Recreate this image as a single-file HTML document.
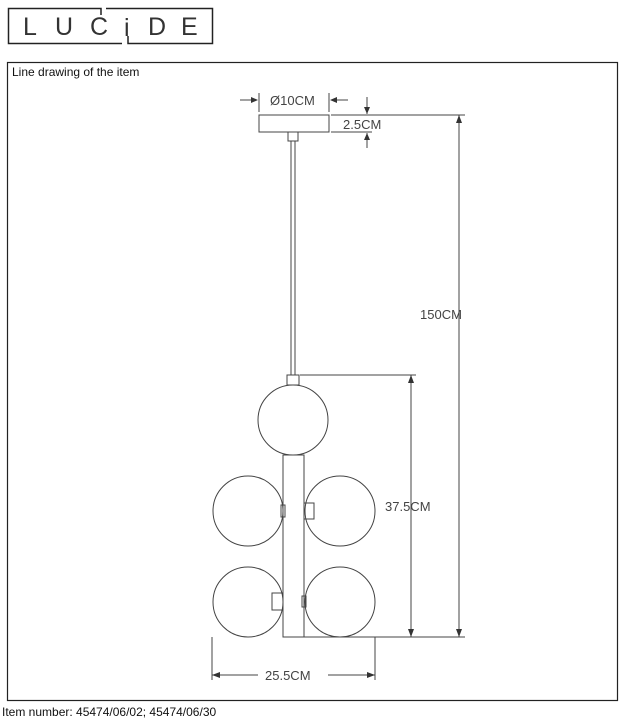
<!DOCTYPE html>
<html><head><meta charset="utf-8"><style>
html,body{margin:0;padding:0;background:#fff;}
svg{display:block;}
text{font-family:"Liberation Sans",sans-serif;}
</style></head><body>
<svg width="623" height="720" viewBox="0 0 623 720" xmlns="http://www.w3.org/2000/svg">
<g fill="none" stroke="#222" stroke-width="1.5">
<polyline points="101,15 101,8.5 8.5,8.5 8.5,43.5 122,43.5"/>
<polyline points="106,8.5 212.5,8.5 212.5,43.5 128,43.5 128,36"/>
</g>
<g font-size="25" fill="#333">
<text x="23" y="35" textLength="12">L</text><text x="55" y="35">U</text><text x="90" y="35">C</text>
<text x="124" y="36">i</text><text x="148" y="35">D</text><text x="181" y="35">E</text>
</g>
<rect x="7.5" y="62.5" width="610" height="638" fill="none" stroke="#222" stroke-width="1.2"/>
<text x="12" y="76" font-size="12" fill="#111">Line drawing of the item</text>
<text x="2" y="716" font-size="12" fill="#111">Item number: 45474/06/02; 45474/06/30</text>
<g fill="none" stroke="#444" stroke-width="1">
<rect x="259" y="115" width="70" height="17"/>
<rect x="288" y="132" width="10" height="9"/>
<line x1="291" y1="141" x2="291" y2="375"/><line x1="295" y1="141" x2="295" y2="375"/>
<rect x="287" y="375" width="12" height="10"/>
<circle cx="293" cy="420" r="35"/>
<rect x="283" y="455" width="21" height="182"/>
<circle cx="248" cy="511" r="35"/><circle cx="340" cy="511" r="35"/>
<circle cx="248" cy="602" r="35"/><circle cx="340" cy="602" r="35"/>
<rect x="281" y="505" width="4" height="12"/><rect x="304" y="503" width="10" height="16"/>
<rect x="272" y="593" width="11" height="17"/><rect x="302" y="596" width="4" height="11"/>
<line x1="240" y1="100" x2="257" y2="100"/><line x1="259" y1="93" x2="259" y2="112"/>
<line x1="331" y1="100" x2="348" y2="100"/><line x1="329" y1="93" x2="329" y2="112"/>
<line x1="367" y1="97" x2="367" y2="114"/><line x1="367" y1="133" x2="367" y2="148"/>
<line x1="331" y1="132" x2="372" y2="132"/>
<line x1="331" y1="115" x2="465" y2="115"/>
<line x1="459" y1="115" x2="459" y2="637"/>
<line x1="300" y1="375" x2="416" y2="375"/>
<line x1="411" y1="375" x2="411" y2="637"/>
<line x1="304" y1="637" x2="465" y2="637"/>
<line x1="212" y1="637" x2="212" y2="680"/><line x1="375" y1="637" x2="375" y2="680"/>
<line x1="212" y1="675" x2="258" y2="675"/><line x1="328" y1="675" x2="375" y2="675"/>
</g>
<g fill="#333">
<polygon points="258,100 251,97 251,103"/><polygon points="330,100 337,97 337,103"/>
<polygon points="367,114 364,107 370,107"/><polygon points="367,133 364,140 370,140"/>
<polygon points="459,115 456,123 462,123"/><polygon points="459,637 456,629 462,629"/>
<polygon points="411,375 408,383 414,383"/><polygon points="411,637 408,629 414,629"/>
<polygon points="212,675 220,672 220,678"/><polygon points="375,675 367,672 367,678"/>
</g>
<g font-size="13" fill="#444">
<text x="270" y="105">Ø10CM</text>
<text x="343" y="129">2.5CM</text>
<text x="420" y="319">150CM</text>
<text x="385" y="511">37.5CM</text>
<text x="265" y="680">25.5CM</text>
</g>
</svg>
</body></html>
